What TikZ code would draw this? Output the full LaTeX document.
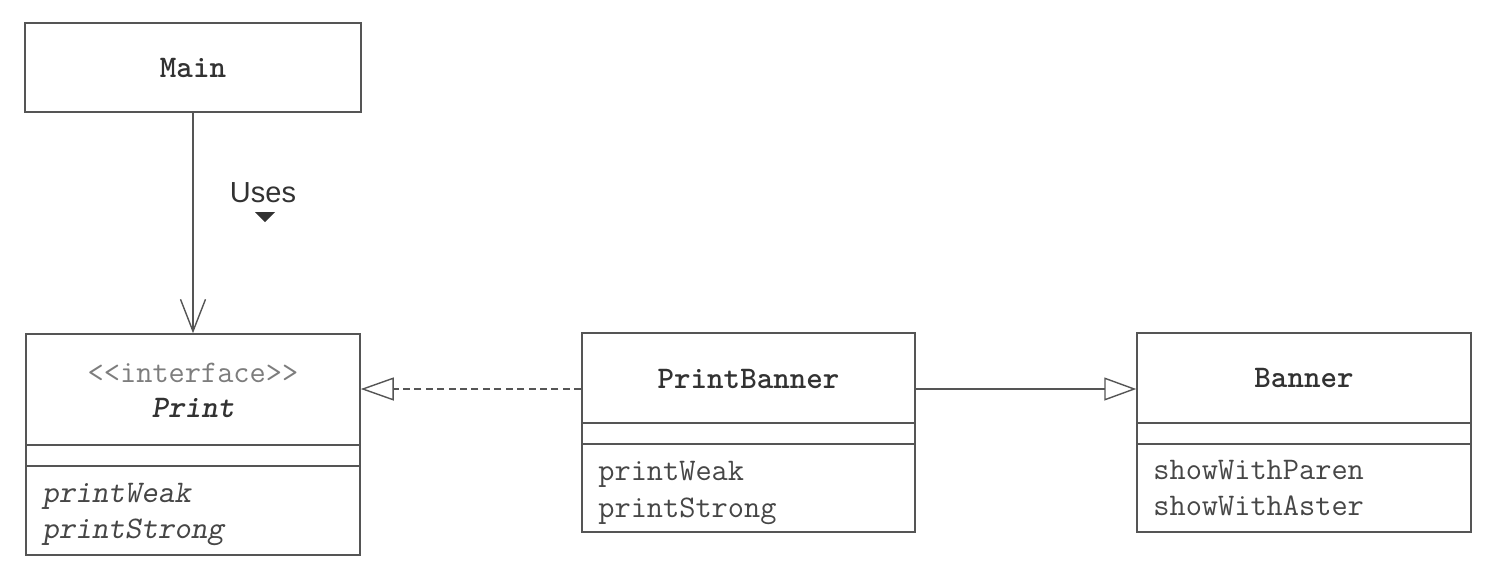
\documentclass[tikz,border=0pt]{standalone}
\usepackage{fontspec}
\setsansfont{Liberation Sans}
\usetikzlibrary{arrows.meta, positioning}
\definecolor{umlLine}{RGB}{85,85,85}
\definecolor{umlInk}{RGB}{50,50,50}
\definecolor{umlGrey}{RGB}{125,125,125}

\begin{document}
\begin{tikzpicture}[x=0.02cm, y=-0.02cm,
    cls/.style={draw=umlLine, line width=0.9pt, inner sep=0pt},
    title/.style={anchor=base, inner sep=0pt, text=umlInk,
      font=\fontsize{17.9}{21}\selectfont\ttfamily\bfseries},
    ops/.style={anchor=base west, inner sep=0pt, text=umlInk!90,
      font=\fontsize{17.9}{21}\selectfont\ttfamily},
    sep/.style={draw=umlLine, line width=0.9pt},
    uses/.style={-{Straight Barb[length=0.64cm, width=0.5cm]}, draw=umlLine, line width=0.8pt},
    realize/.style={-{Triangle[open, length=0.66cm, width=0.46cm]}, draw=umlLine, line width=0.8pt,
      dash pattern=on 4pt off 2.5pt},
    extends/.style={-{Triangle[open, length=0.64cm, width=0.46cm]}, draw=umlLine, line width=0.8pt}
  ]
  \useasboundingbox (0,0) rectangle (1494,572);

  % class boxes
  \node[cls, minimum width=6.72cm, minimum height=1.78cm] (main) at (193,67.5) {};
  \node[cls, minimum width=6.68cm, minimum height=4.42cm] (print) at (193,444.5) {};
  \node[cls, minimum width=6.66cm, minimum height=3.98cm] (pbanner) at (748.5,432.5) {};
  \node[cls, minimum width=6.68cm, minimum height=3.98cm] (banner) at (1304,432.5) {};

  % compartments
  \foreach \y in {445,466}
    \draw[sep] (print.west |- 0,\y) -- (print.east |- 0,\y);
  \foreach \c in {pbanner,banner}
    \foreach \y in {423,444}
      \draw[sep] (\c.west |- 0,\y) -- (\c.east |- 0,\y);

  % names
  \node[title] (mainname) at (193,77) {Main};
  \node[title, text=umlGrey, font=\fontsize{17.9}{21}\selectfont\ttfamily] (stereo) at (193,382) {<<interface>>};
  \node[title] (printname) at (193,417) {\textsl{Print}};
  \node[title] (pbannername) at (748.5,388) {PrintBanner};
  \node[title] (bannername) at (1304,387) {Banner};

  % operations
  \node[ops] (pweak) at (42,502) {\textsl{printWeak}};
  \node[ops] (pstrong) at (42,538) {\textsl{printStrong}};
  \node[ops] (pbweak) at (598,480) {printWeak};
  \node[ops] (pbstrong) at (598,517) {printStrong};
  \node[ops] (bparen) at (1153,479) {showWithParen};
  \node[ops] (baster) at (1153,515) {showWithAster};

  % relations
  \draw[uses] (main) -- (print);
  \node[text=umlInk, font=\fontsize{16.5}{18}\selectfont\sffamily] (useslabel) at (263,193) {Uses};
  \fill[umlInk] (255,212) -- (275,212) -- (265,222) -- cycle;
  \draw[realize] (pbanner.west |- 0,389) -- (print.east |- 0,389);
  \draw[extends] (pbanner.east |- 0,389) -- (banner.west |- 0,389);
\end{tikzpicture}
\end{document}
